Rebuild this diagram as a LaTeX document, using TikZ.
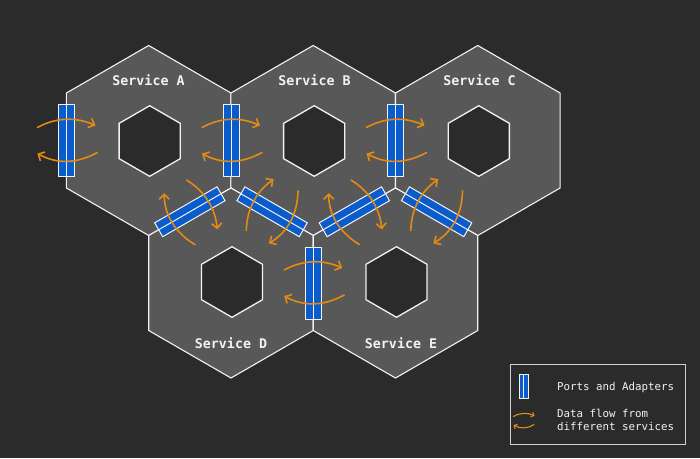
\documentclass[tikz,border=0pt]{standalone}
\usepackage{fontspec}
\newfontfamily\labfont{DejaVu Sans Mono}
\usetikzlibrary{arrows.meta,calc}
\definecolor{bgc}{HTML}{2B2B2B}
\definecolor{hexfill}{HTML}{585858}
\definecolor{edgec}{HTML}{F2F2F2}
\definecolor{portblue}{HTML}{0A5CCC}
\definecolor{flowc}{HTML}{E38B12}
\definecolor{legedge}{HTML}{D0D0D0}
\newcommand\drawhex[3]{\draw[#3] (#1) +(90:#2) -- +(30:#2) -- +(-30:#2) -- +(-90:#2) -- +(-150:#2) -- +(150:#2) -- cycle;}
\newcommand\flowpair[2]{%
  \begin{scope}[shift={(#1)}, rotate=#2]
    \draw[flow] (-29,-13) .. controls (-10,-23.5) and (10,-23.5) .. (29,-15);
    \draw[flow] (31,12) .. controls (10,23.5) and (-10,23.5) .. (-29,13);
  \end{scope}}
\newcommand\portbox[3]{%
  \node[port, rotate=#3] (#1) at (#2) {};
  \draw[divider] (#1.north) -- (#1.south);}
\begin{document}
\begin{tikzpicture}[x=1pt,y=-1pt,
  outerhex/.style={fill=hexfill, draw=edgec, line width=1.1pt, line join=miter},
  innerhex/.style={fill=bgc, draw=edgec, line width=1.3pt},
  port/.style={draw=edgec, fill=portblue, line width=1pt, minimum width=16pt, minimum height=72pt, inner sep=0pt, outer sep=0pt},
  smallport/.style={draw=edgec, fill=portblue, line width=0.9pt, minimum width=9pt, minimum height=24pt, inner sep=0pt, outer sep=0pt},
  divider/.style={draw=edgec, line width=1pt},
  flow/.style={draw=flowc, line width=1.6pt, line cap=round, -{Straight Barb[length=5pt,width=10pt]}},
  smallflow/.style={draw=flowc, line width=1.1pt, line cap=round, -{Straight Barb[length=2.5pt,width=5pt]}},
  svc/.style={text=edgec, font=\labfont\bfseries\fontsize{13.3}{15}\selectfont, inner sep=0pt},
  legtext/.style={text=edgec, font=\labfont\fontsize{10.8}{13}\selectfont, inner sep=0pt, anchor=base west}
]
\fill[bgc] (0,0) rectangle (700,458);
% hexagon centres
\coordinate (cA) at (148.7,140.5);
\coordinate (cB) at (313.2,140.5);
\coordinate (cC) at (477.8,140.5);
\coordinate (cD) at (231,283);
\coordinate (cE) at (395.5,283);
% outer hexagons
\drawhex{cA}{95}{outerhex}
\drawhex{cB}{95}{outerhex}
\drawhex{cC}{95}{outerhex}
\drawhex{cD}{95}{outerhex}
\drawhex{cE}{95}{outerhex}
% inner hexagons
\drawhex{$(cA)+(1,0.5)$}{35.3}{innerhex}
\drawhex{$(cB)+(1,0.5)$}{35.3}{innerhex}
\drawhex{$(cC)+(1,0.5)$}{35.3}{innerhex}
\drawhex{$(cD)+(1,-1)$}{35.3}{innerhex}
\drawhex{$(cE)+(1,-1)$}{35.3}{innerhex}
% labels
\node[svc] (lA) at (148.5,80.5) {Service A};
\node[svc] (lB) at (314.5,80.5) {Service B};
\node[svc] (lC) at (479.5,80.5) {Service C};
\node[svc] (lD) at (231,343) {Service D};
\node[svc] (lE) at (401,343) {Service E};
% ports
\portbox{pL}{66.4,140.5}{0}
\portbox{pAB}{231,140.5}{0}
\portbox{pBC}{395.5,140.5}{0}
\portbox{pAD}{189.85,211.75}{-60}
\portbox{pBD}{272.1,211.75}{60}
\portbox{pBE}{354.35,211.75}{-60}
\portbox{pCE}{436.6,211.75}{60}
\portbox{pDE}{313.2,283}{0}
% data flows
\flowpair{pL.center}{0}
\flowpair{pAB.center}{0}
\flowpair{pBC.center}{0}
\flowpair{pAD.center}{-60}
\flowpair{pBD.center}{60}
\flowpair{pBE.center}{-60}
\flowpair{pCE.center}{60}
\flowpair{pDE.center}{0}
% legend
\draw[draw=legedge, line width=1pt, fill=bgc] (510,364) rectangle (685,444);
\node[smallport] (lp) at (523.5,386) {};
\draw[divider, line width=0.8pt] (lp.north) -- (lp.south);
\node[legtext] (t1) at (557,390.5) {Ports and Adapters};
\coordinate (lf) at (524,421);
\begin{scope}[shift={(lf)}]
  \draw[smallflow] (-10.5,-4.5) .. controls (-4,-8.5) and (4,-8.5) .. (10.5,-5);
  \draw[smallflow] (10,3.5) .. controls (4,7.8) and (-4,7.8) .. (-10.5,4);
\end{scope}
\node[legtext] (t2) at (557,417.5) {Data flow from};
\node[legtext] (t3) at (557,430.5) {different services};
\end{tikzpicture}
\end{document}
